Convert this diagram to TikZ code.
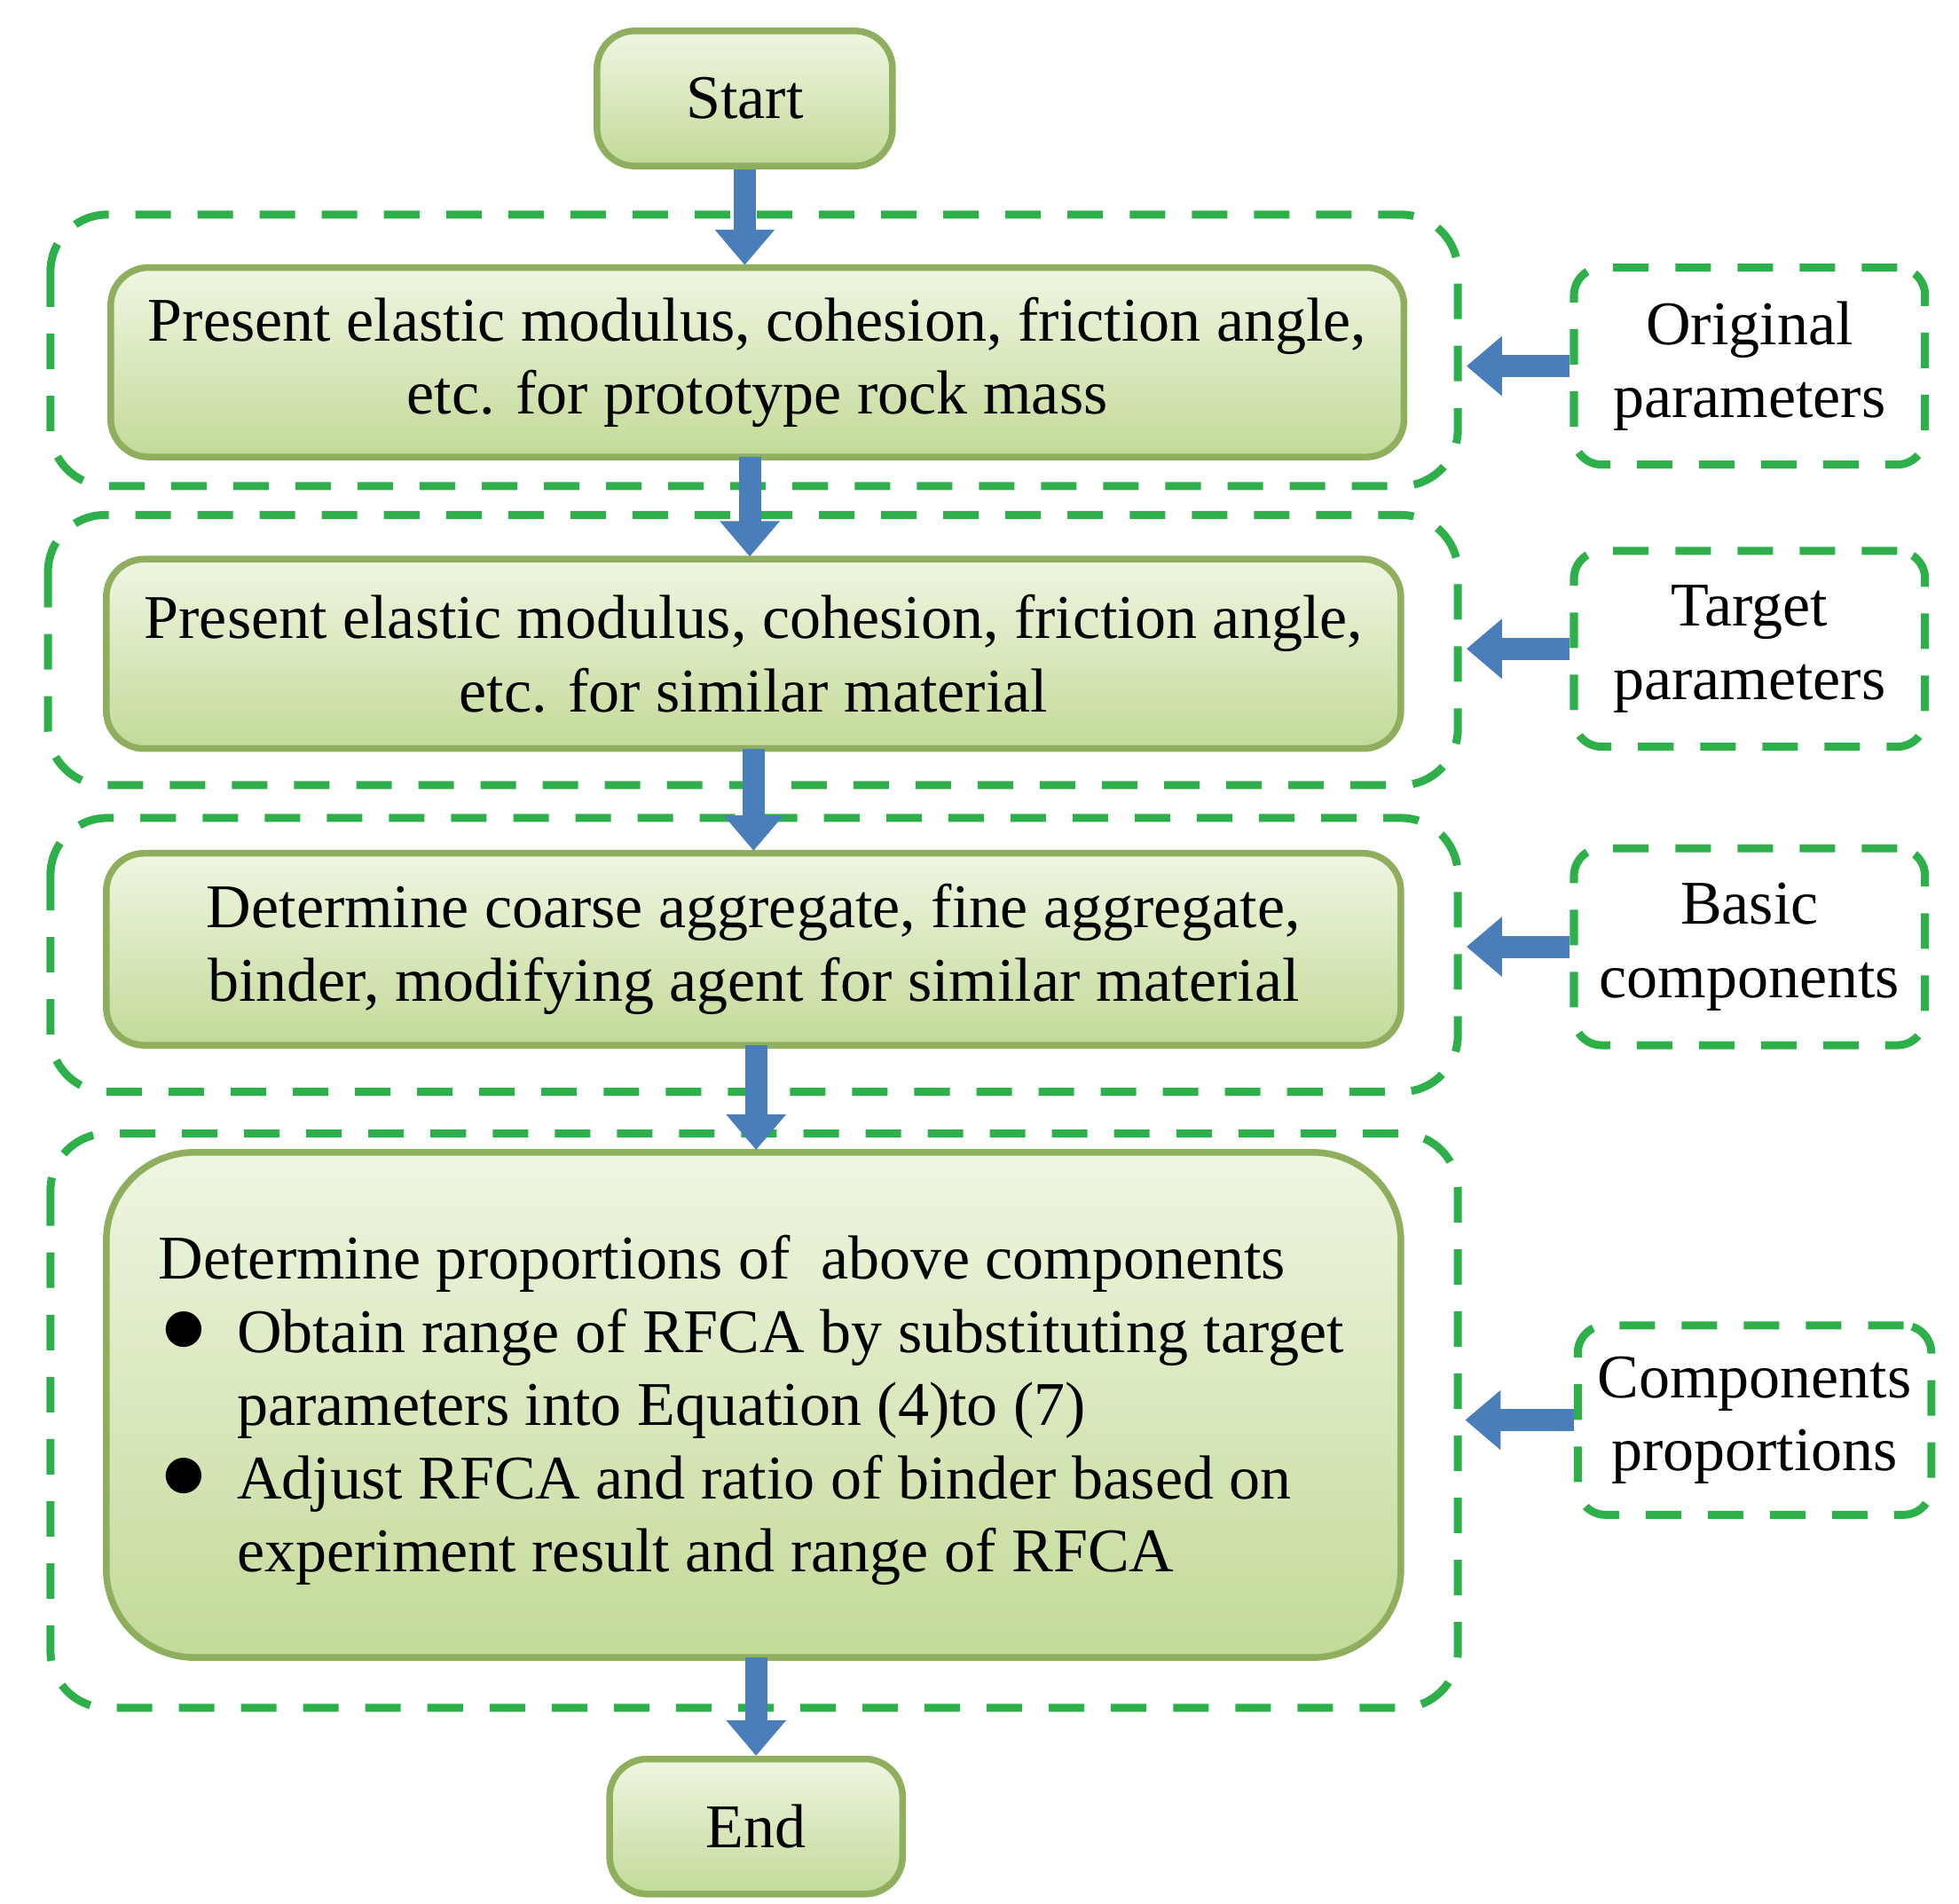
\documentclass[tikz,border=0pt]{standalone}
\usepackage{fontspec}
\setmainfont{Liberation Serif}
\usetikzlibrary{arrows.meta}
\definecolor{gfill1}{HTML}{EFF6E2}
\definecolor{gfill2}{HTML}{C3DA98}
\definecolor{gdraw}{HTML}{8FAE5E}
\definecolor{dgreen}{HTML}{2DB04A}
\definecolor{barrow}{HTML}{4A7EBB}
\newcommand{\bul}{\makebox[0.62cm][l]{\hspace{0.02cm}\smash{\huge$\bullet$}}}
\begin{document}
\begin{tikzpicture}[x=0.01cm,y=-0.01cm,
  box/.style={draw=gdraw,line width=1.5pt,rounded corners=0.3cm,top color=gfill1,bottom color=gfill2,font=\fontsize{14}{16.5}\selectfont,align=center,inner sep=0pt},
  grp/.style={draw=dgreen,line width=1.8pt,dash pattern=on 8pt off 6pt,rounded corners=0.45cm},
  side/.style={draw=dgreen,line width=1.8pt,dash pattern=on 8pt off 6pt,rounded corners=0.22cm,font=\fontsize{14}{16.5}\selectfont,align=center,inner sep=0pt},
  barr/.style={barrow,line width=5pt,-{Triangle[width=13pt,length=8pt]}}]
\useasboundingbox (0,0) rectangle (1552,1508);
% groups
\draw[grp] (40,170) rectangle (1155,385);
\draw[grp] (38,408) rectangle (1155,622);
\draw[grp] (40,648) rectangle (1155,865);
\draw[grp] (40,898) rectangle (1155,1353);
% boxes
\node[box,minimum width=2.34cm,minimum height=1.07cm] (start) at (590,78) {Start};
\node[box,minimum width=10.24cm,minimum height=1.5cm] (b1) at (600,287) {Present elastic modulus, cohesion, friction angle,\\etc. for prototype rock mass};
\node[box,minimum width=10.25cm,minimum height=1.5cm] (b2) at (597,518) {Present elastic modulus, cohesion, friction angle,\\etc. for similar material};
\node[box,minimum width=10.25cm,minimum height=1.52cm] (b3) at (597,752) {Determine coarse aggregate, fine aggregate,\\binder, modifying agent for similar material};
\node[box,minimum width=10.25cm,minimum height=4.0cm,rounded corners=0.7cm] (b4) at (597,1113) {};
\node[font=\fontsize{14}{16.5}\selectfont,align=left,anchor=north west,inner sep=0pt] (t4) at (125,978) {%
Determine proportions of\ \ above components\\
\bul Obtain range of RFCA by substituting target\\
\makebox[0.62cm][l]{}parameters into Equation (4)to (7)\\
\bul Adjust RFCA and ratio of binder based on\\
\makebox[0.62cm][l]{}experiment result and range of RFCA};
\node[box,minimum width=2.32cm,minimum height=1.07cm] (end) at (599,1447) {End};
% side labels
\node[side,minimum width=2.78cm,minimum height=1.56cm] (s1) at (1386,290) {Original\\parameters};
\node[side,minimum width=2.78cm,minimum height=1.55cm] (s2) at (1386,514) {Target\\parameters};
\node[side,minimum width=2.78cm,minimum height=1.56cm] (s3) at (1386,750) {Basic\\components};
\node[side,minimum width=2.8cm,minimum height=1.5cm] (s4) at (1390,1125) {Components\\proportions};
% arrows
\draw[barr] (start.south) -- (590,210);
\draw[barr] (594,362) -- (594,441);
\draw[barr] (597,593) -- (597,674);
\draw[barr] (599,828) -- (599,911);
\draw[barr] (599,1313) -- (599,1391);
\draw[barr] (s1.west) -- ++(-82,0);
\draw[barr] (s2.west) -- ++(-82,0);
\draw[barr] (s3.west) -- ++(-82,0);
\draw[barr] (s4.west) -- ++(-86,0);
\end{tikzpicture}
\end{document}
